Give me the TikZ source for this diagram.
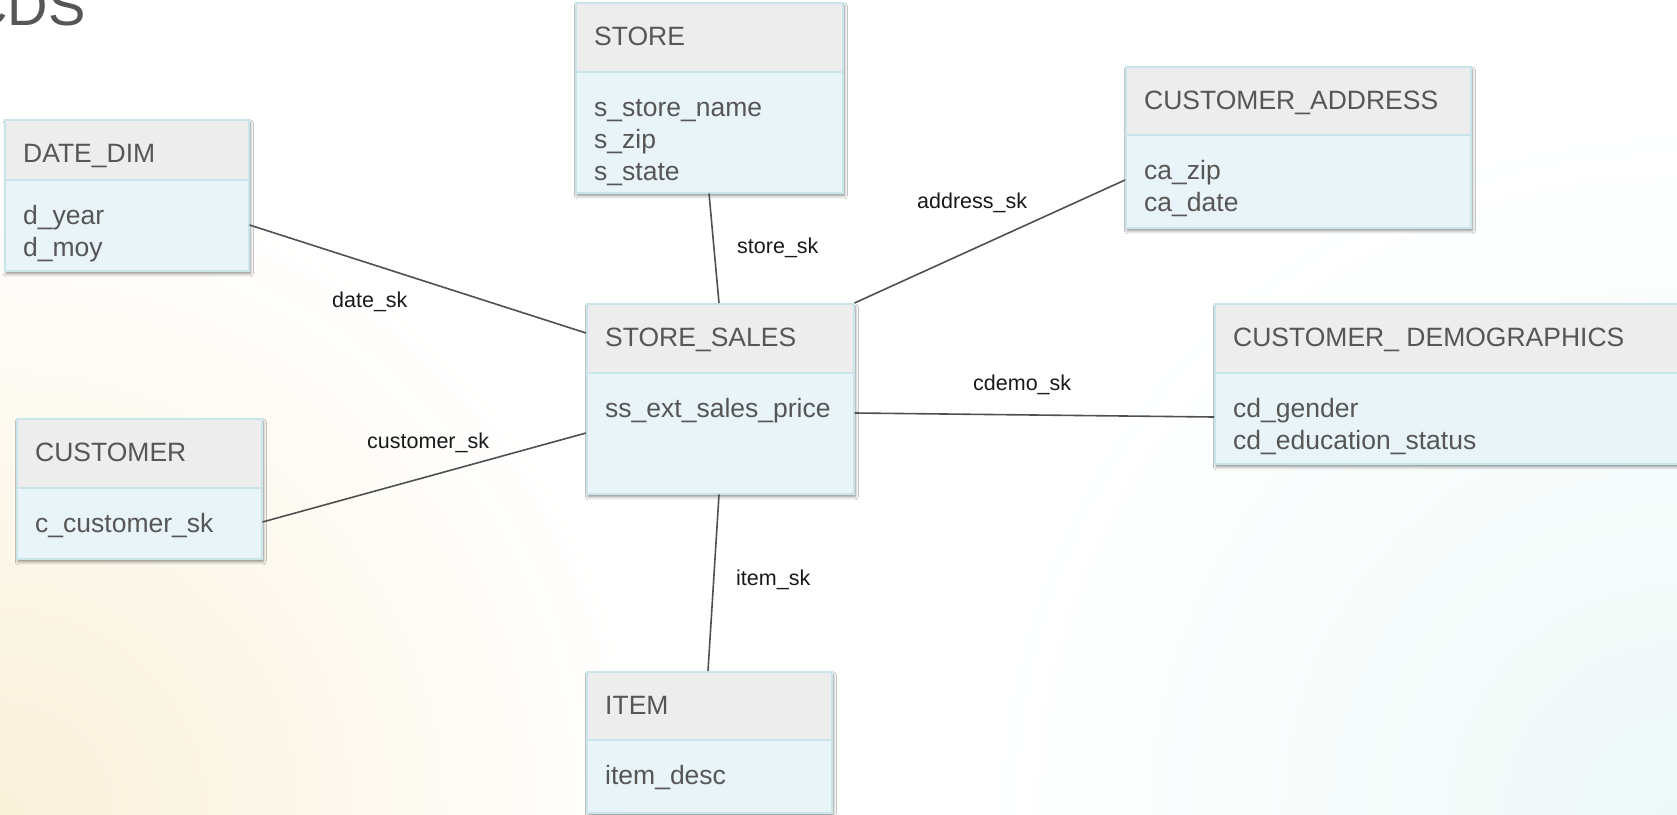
\documentclass[tikz,border=0pt]{standalone}
\usepackage{fontspec}
\setmainfont{Liberation Sans}
\usetikzlibrary{calc,shadows.blur}

\definecolor{ink}{HTML}{565656}
\definecolor{hdrfill}{HTML}{EDEDED}
\definecolor{bodyfill}{HTML}{E8F4F8}
\definecolor{edgecol}{HTML}{C9E5EA}
\definecolor{wire}{HTML}{505050}
\definecolor{cream}{HTML}{FAF1DA}
\definecolor{mint}{HTML}{EEF9F7}

\tikzset{
  tbl/.style={rectangle, draw=edgecol, line width=1.5pt, fill=bodyfill, inner sep=0pt,
    blur shadow={shadow xshift=1.5pt, shadow yshift=-3pt, shadow blur radius=3pt, shadow opacity=45}},
  hdr/.style={rectangle, draw=edgecol, line width=1.5pt, fill=hdrfill, inner sep=0pt},
  ttl/.style={anchor=base west, inner sep=0pt, text=ink, font=\fontsize{26.5}{32}\selectfont},
  fld/.style={ttl},
  keylbl/.style={anchor=base west, inner sep=0pt, text=black!90, font=\fontsize{21.5}{26}\selectfont},
  link/.style={draw=wire, line width=1.6pt},
}

% table box: name, x, y (top-left), width, height, header height, title, fields
\newcommand\erbox[8]{%
  \node[tbl, minimum width=#4, minimum height=#5, anchor=north west] (#1) at (#2,#3) {};
  \node[hdr, minimum width=#4, minimum height=#6, anchor=north west] (#1-h) at (#1.north west) {};
  \node[ttl] (#1-t) at ($(#1.north west)+(19,43)$) {#7};
  \foreach \f [count=\i from 0] in {#8} {
    \node[fld] (#1-f\i) at ($(#1-h.south west)+(19,{44+32*\i})$) {\f};
  }
}

\begin{document}
\begin{tikzpicture}[x=1pt, y=-1pt]
  \useasboundingbox (0,0) rectangle (1677,814);
  \clip (0,0) rectangle (1677,814);

  % page background: white with warm and cool glows in the lower corners
  \fill[white] (0,0) rectangle (1677,814);
  \shade[inner color=mint, outer color=white] (1677,814) circle[radius=700];
  \shade[inner color=cream, outer color=white] (0,814) circle[radius=650];

  \node[anchor=base west, inner sep=0pt, text=ink, font=\fontsize{56}{60}\selectfont] (title) at (-33,25) {CDS};

  \erbox{dd}{4}{119}{244}{151}{60}{DATE\_DIM}{d\_year,d\_moy}
  \erbox{st}{575}{2}{267}{190}{69}{STORE}{s\_store\_name,s\_zip,s\_state}
  \erbox{ca}{1125}{66}{345}{161}{68}{CUSTOMER\_ADDRESS}{ca\_zip,ca\_date}
  \erbox{ss}{586}{303}{267}{190}{69}{STORE\_SALES}{ss\_ext\_sales\_price}
  \erbox{cd}{1214}{303}{466}{160}{69}{CUSTOMER\_ DEMOGRAPHICS}{cd\_gender,cd\_education\_status}
  \erbox{cu}{16}{418}{245}{140}{69}{CUSTOMER}{c\_customer\_sk}
  \erbox{it}{586}{671}{245}{141}{68}{ITEM}{item\_desc}

  % foreign-key links
  \draw[link] ($(dd.north east)+(0,106)$) -- ($(ss.north west)+(0,30)$);
  \draw[link] ($(st.south west)+(134,0)$) -- ($(ss.north west)+(133,0)$);
  \draw[link] ($(ca.north west)+(0,114)$) -- (ss.north east);
  \draw[link] ($(ss.north east)+(0,110)$) -- ($(cd.north west)+(0,114)$);
  \draw[link] ($(cu.north east)+(0,104)$) -- ($(ss.north west)+(0,130)$);
  \draw[link] ($(ss.south west)+(133,0)$) -- ($(it.north west)+(122,0)$);

  % link labels
  \node[keylbl] (l-date) at (332,307) {date\_sk};
  \node[keylbl] (l-store) at (737,253) {store\_sk};
  \node[keylbl] (l-addr) at (917,208) {address\_sk};
  \node[keylbl] (l-cdemo) at (973,390) {cdemo\_sk};
  \node[keylbl] (l-cust) at (367,448) {customer\_sk};
  \node[keylbl] (l-item) at (736,585) {item\_sk};
\end{tikzpicture}
\end{document}
